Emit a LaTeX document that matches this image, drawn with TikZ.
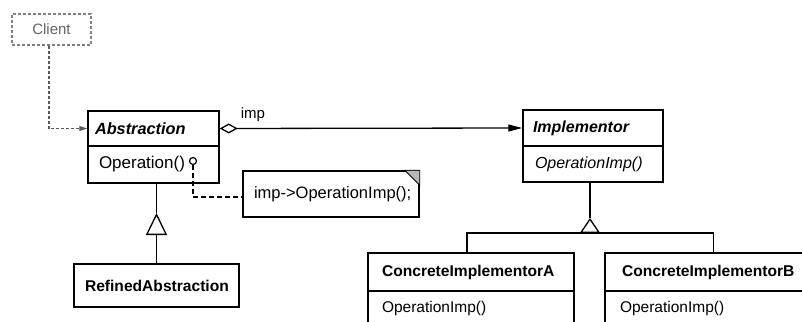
\documentclass[tikz,border=0pt]{standalone}
\usepackage{fontspec}
\setmainfont{Liberation Sans}
\usetikzlibrary{arrows.meta}
\begin{document}
\begin{tikzpicture}[x=1pt,y=-1pt,
  cls/.style={draw, line width=1.5pt, rectangle, inner ysep=0pt, align=left},
  fb/.style={font=\fontsize{15.6}{18}\selectfont\bfseries},
  fbi/.style={font=\fontsize{16.3}{18}\selectfont\bfseries\itshape},
  fr/.style={font=\fontsize{15.5}{18}\selectfont},
  fi/.style={font=\fontsize{16}{18}\selectfont\itshape},
  conn/.style={line width=1.3pt}]
\clip (0,0) rectangle (802,321);
\fill[white] (0,0) rectangle (802,321);
% Client
\node[draw=gray, densely dashed, line width=1.1pt, minimum width=79pt, minimum height=31pt, inner sep=0pt, text=gray!80!black, font=\fontsize{15}{16}\selectfont] (client) at (51.5,29.5) {Client};
% Abstraction
\node[cls, fbi, inner xsep=7pt, text width=117pt, minimum height=35pt] (abs) at (153.5,128.5) {Abstraction};
\node[cls, fr, font=\fontsize{17}{18}\selectfont, inner xsep=11pt, text width=109pt, minimum height=37pt] (absop) at (153.5,164.5) {Operation()};
% Implementor
\node[cls, fbi, font=\fontsize{16}{18}\selectfont\bfseries\itshape, inner xsep=10pt, text width=120pt, minimum height=36pt] (impl) at (593,128) {Implementor};
\node[cls, fi, inner xsep=12pt, text width=116pt, minimum height=36pt] (implop) at (593,164) {OperationImp()};
% Refined
\node[cls, fb, inner xsep=11pt, text width=143pt, minimum height=43pt] (refined) at (156.5,285.5) {RefinedAbstraction};
% Concrete A
\node[cls, fb, inner xsep=14pt, text width=178pt, minimum height=38pt] (ca) at (471,272) {ConcreteImplementorA};
\node[cls, fr, inner xsep=14pt, text width=178pt, minimum height=34pt] (caop) at (471,308) {OperationImp()};
% Concrete B
\node[cls, fb, inner xsep=17pt, text width=177pt, minimum height=38pt] (cb) at (710.5,272) {ConcreteImplementorB};
\node[cls, fr, inner xsep=15pt, text width=181pt, minimum height=34pt] (cbop) at (710.5,308) {OperationImp()};
% Note
\node[cls, fr, font=\fontsize{16.5}{18}\selectfont, inner xsep=11pt, text width=154pt, minimum height=46pt] (note) at (331,194) {\mbox{imp->OperationImp();}};
\fill[gray!55, draw=black, line width=0.9pt] ([xshift=-15pt]note.north east) -- (note.north east) -- ([yshift=-15pt]note.north east) -- cycle;
% pin
\node[circle, draw, line width=1.2pt, inner sep=0pt, minimum size=7pt, fill=white] (pin) at (193,161) {};
\draw[conn, dash pattern=on 5pt off 3pt] (pin.south) |- ([yshift=-3pt]note.west);
% Client -> Abstraction
\draw[conn, line width=1.1pt, densely dashed, gray!70!black, -{Triangle[length=8pt,width=5pt]}] (client.south -| 49,0) |- (abs.west);
% aggregation
\draw[conn, {Diamond[open,length=18pt,width=10pt]}-{Triangle[length=14pt,width=7pt]}] (abs.east) -- (impl.west);
\node[font=\fontsize{15}{16}\selectfont, inner sep=0pt] (implabel) at (253,115) {imp};
% inheritance refined
\draw[conn, -{Triangle[open,length=22pt,width=21pt]}] (refined.north) -- (refined.north |- 0,213);
\draw[conn] (refined.north |- absop.south) -- (refined.north |- 0,213);
% inheritance concrete
\draw[conn] ([xshift=-4pt]ca.north) |- ([xshift=3pt]cb.north |- 0,233) -- ([xshift=3pt]cb.north);
\draw[conn, -{Triangle[open,length=15pt,width=20pt]}] ([xshift=-3pt]implop.south |- 0,233) -- ([xshift=-3pt]implop.south |- 0,218);
\draw[conn] ([xshift=-3pt]implop.south) -- ([xshift=-3pt]implop.south |- 0,218);
\end{tikzpicture}
\end{document}
